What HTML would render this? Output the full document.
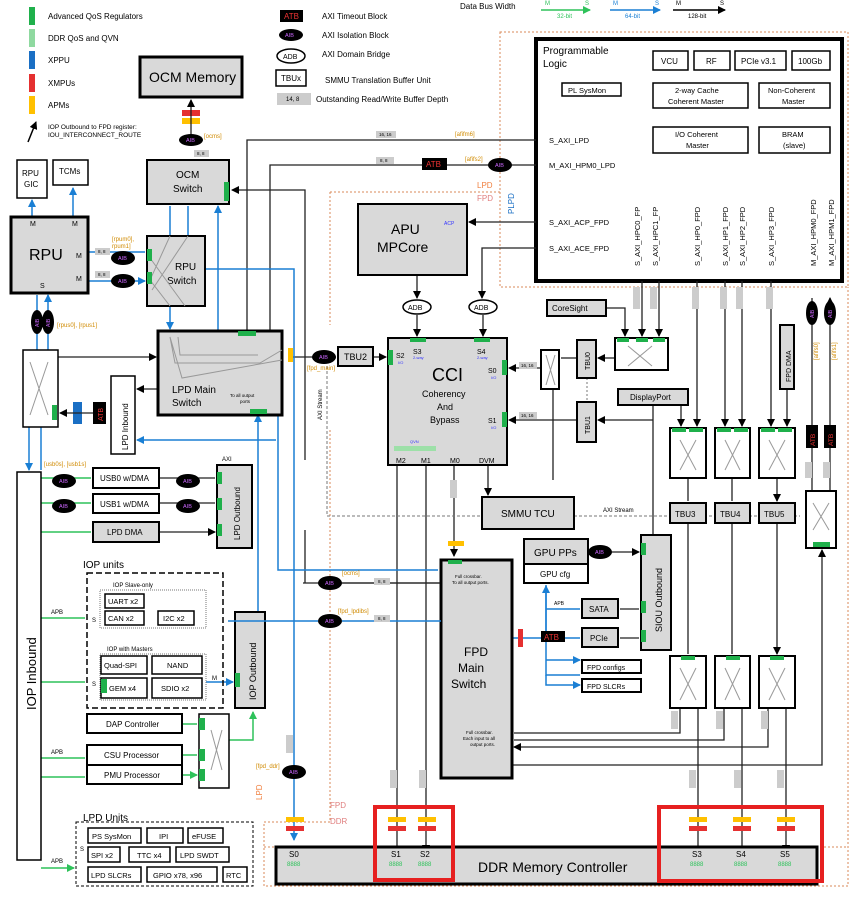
<!DOCTYPE html>
<html><head><meta charset="utf-8"><style>
html,body{margin:0;padding:0;background:#fff}
svg{display:block;font-family:"Liberation Sans",sans-serif}
.g{fill:#d9d9d9;stroke:#000;stroke-width:2}
.G{fill:#d9d9d9;stroke:#000;stroke-width:3}
.w{fill:#fff;stroke:#000;stroke-width:1.5}
.W{fill:#fff;stroke:#000;stroke-width:2}
.k{stroke:#222;stroke-width:1.3;fill:none}
.bl{stroke:#1a7fd4;stroke-width:1.5;fill:none}
.gr{stroke:#2ec25a;stroke-width:1.5;fill:none}
.or{stroke:#d98a5a;stroke-width:1;stroke-dasharray:2 2;fill:none}
.x{stroke:#999;stroke-width:1;fill:none}
.s{font-size:8px}.m{font-size:9.5px}.l{font-size:12px}
.o{fill:#d08a00;font-size:6px}
</style></head><body>
<svg width="860" height="904" viewBox="0 0 860 904">
<defs>
<marker id="a" markerWidth="8" markerHeight="8" refX="7" refY="4" orient="auto" markerUnits="userSpaceOnUse"><path d="M0,0L8,4L0,8z" fill="#000"/></marker>
<marker id="ab" markerWidth="8" markerHeight="8" refX="7" refY="4" orient="auto" markerUnits="userSpaceOnUse"><path d="M0,0L8,4L0,8z" fill="#1a7fd4"/></marker>
<marker id="ag" markerWidth="8" markerHeight="8" refX="7" refY="4" orient="auto" markerUnits="userSpaceOnUse"><path d="M0,0L8,4L0,8z" fill="#2ec25a"/></marker>
</defs>
<!-- legend -->
<rect x="29" y="7" width="6" height="18" fill="#1fb04b"/><text x="48" y="19" class="s">Advanced QoS Regulators</text>
<rect x="29" y="29" width="6" height="18" fill="#8fd9a0"/><text x="48" y="41" class="s">DDR QoS and QVN</text>
<rect x="29" y="51" width="6" height="18" fill="#1a6fc4"/><text x="48" y="63" class="s">XPPU</text>
<rect x="29" y="74" width="6" height="18" fill="#e53030"/><text x="48" y="86" class="s">XMPUs</text>
<rect x="29" y="96" width="6" height="18" fill="#ffc000"/><text x="48" y="108" class="s">APMs</text>
<path d="M28,142L36,122" stroke="#000" stroke-width="1.5" marker-end="url(#a)"/>
<text x="48" y="129" font-size="6.5">IOP Outbound to FPD register:</text><text x="48" y="137" font-size="6.5">IOU_INTERCONNECT_ROUTE</text>
<rect x="280" y="10" width="23" height="12" fill="#000"/><text x="284" y="19" font-size="8" fill="#e33">ATB</text><text x="322" y="19" class="s">AXI Timeout Block</text>
<ellipse cx="291" cy="35" rx="12" ry="6" fill="#000"/><text x="285" y="37" font-size="5.5" fill="#c6f">AIB</text><text x="322" y="38" class="s">AXI Isolation Block</text>
<ellipse cx="291" cy="56" rx="14" ry="7" class="w"/><text x="283" y="59" font-size="7">ADB</text><text x="322" y="57" class="s">AXI Domain Bridge</text>
<rect x="276" y="70" width="30" height="16" class="w"/><text x="281" y="81" class="s">TBUx</text><text x="325" y="83" class="s">SMMU Translation Buffer Unit</text>
<rect x="277" y="93" width="34" height="12" fill="#ccc"/><text x="286" y="101" font-size="6">14, 8</text><text x="316" y="102" class="s">Outstanding Read/Write Buffer Depth</text>
<text x="460" y="9" class="s">Data Bus Width</text>
<path d="M541,10H590" stroke="#2ec25a" stroke-width="1.5" marker-end="url(#ag)"/><text x="545" y="5" font-size="6" fill="#2ec25a">M</text><text x="585" y="5" font-size="6" fill="#2ec25a">S</text><text x="557" y="18" font-size="6" fill="#2ec25a">32-bit</text>
<path d="M610,10H660" class="bl" marker-end="url(#ab)"/><text x="613" y="5" font-size="6" fill="#1a7fd4">M</text><text x="655" y="5" font-size="6" fill="#1a7fd4">S</text><text x="625" y="18" font-size="6" fill="#1a7fd4">64-bit</text>
<path d="M673,10H725" stroke="#000" stroke-width="1.5" marker-end="url(#a)"/><text x="676" y="5" font-size="6">M</text><text x="720" y="5" font-size="6">S</text><text x="688" y="18" font-size="6">128-bit</text>

<!-- domain dashed -->
<path class="or" d="M500,32H848V287H500ZM330,192H500M330,192V325M330,430V822H264V886H848V287M264,847H848"/>
<text x="477" y="188" font-size="8" fill="#f08040">LPD</text><text x="477" y="201" font-size="8" fill="#e08080">FPD</text>
<text x="514" y="214" font-size="8" fill="#1a6fc4" transform="rotate(-90 514 214)">PLPD</text>
<text x="330" y="808" font-size="8" fill="#e08080">FPD</text><text x="330" y="824" font-size="8" fill="#e08080">DDR</text>
<text x="262" y="800" font-size="8" fill="#f08040" transform="rotate(-90 262 800)">LPD</text>

<!-- PL -->
<rect x="536" y="39" width="306" height="242" fill="#fff" stroke="#000" stroke-width="4"/>
<text x="543" y="54" font-size="10">Programmable</text><text x="543" y="67" font-size="10">Logic</text>
<rect x="653" y="51" width="35" height="19" class="w"/><text x="661" y="64" class="s">VCU</text>
<rect x="694" y="51" width="36" height="19" class="w"/><text x="706" y="64" class="s">RF</text>
<rect x="735" y="51" width="51" height="19" class="w"/><text x="741" y="64" class="s">PCIe v3.1</text>
<rect x="792" y="51" width="38" height="19" class="w"/><text x="798" y="64" class="s">100Gb</text>
<rect x="562" y="83" width="59" height="13" class="w"/><text x="568" y="93" font-size="7.5">PL SysMon</text>
<rect x="653" y="83" width="95" height="25" class="w"/><text x="675" y="93" font-size="7.5">2-way Cache</text><text x="668" y="104" font-size="7.5">Coherent Master</text>
<rect x="759" y="83" width="71" height="25" class="w"/><text x="768" y="93" font-size="7.5">Non-Coherent</text><text x="782" y="104" font-size="7.5">Master</text>
<rect x="653" y="127" width="95" height="26" class="w"/><text x="675" y="137" font-size="7.5">I/O Coherent</text><text x="686" y="148" font-size="7.5">Master</text>
<rect x="759" y="127" width="71" height="26" class="w"/><text x="782" y="137" font-size="7.5">BRAM</text><text x="783" y="148" font-size="7.5">(slave)</text>
<text x="549" y="143" font-size="7.5">S_AXI_LPD</text><text x="549" y="168" font-size="7.5">M_AXI_HPM0_LPD</text>
<text x="549" y="225" font-size="7.5">S_AXI_ACP_FPD</text><text x="549" y="251" font-size="7.5">S_AXI_ACE_FPD</text>
<g font-size="7.5">
<text transform="translate(640,266) rotate(-90)">S_AXI_HPC0_FP</text><text transform="translate(658,266) rotate(-90)">S_AXI_HPC1_FP</text>
<text transform="translate(700,266) rotate(-90)">S_AXI_HP0_FPD</text><text transform="translate(728,266) rotate(-90)">S_AXI_HP1_FPD</text>
<text transform="translate(745,266) rotate(-90)">S_AXI_HP2_FPD</text><text transform="translate(774,266) rotate(-90)">S_AXI_HP3_FPD</text>
<text transform="translate(816,266) rotate(-90)">M_AXI_HPM0_FPD</text><text transform="translate(834,266) rotate(-90)">M_AXI_HPM1_FPD</text></g>

<!-- black connectors -->
<g class="k">
<path d="M247,373V140H536"/><path d="M270,373V165H536"/><path d="M536,222H469" marker-end="url(#a)"/>
<path d="M536,248H482V298" marker-end="url(#a)"/><path d="M417,275V298" marker-end="url(#a)"/>
<path d="M417,315V336" marker-end="url(#a)"/><path d="M483,315V336" marker-end="url(#a)"/>
<path d="M305,460V190H232" marker-end="url(#a)"/>
<path d="M292,357H336"/><path d="M373,357H386" marker-end="url(#a)"/>
<path d="M58,357H156" marker-end="url(#a)"/><path d="M158,389H137" marker-end="url(#a)"/>
<path d="M606,308H625V336" marker-end="url(#a)"/><path d="M642,281V336" marker-end="url(#a)"/><path d="M659,281V336" marker-end="url(#a)"/>
<path d="M614,358H598" marker-end="url(#a)"/><path d="M577,358H561"/><path d="M541,368H509" marker-end="url(#a)"/>
<path d="M553,390V480M653,405V535"/><path d="M653,420H598" marker-end="url(#a)"/><path d="M577,420H509" marker-end="url(#a)"/>
<path d="M697,281V426" marker-end="url(#a)"/><path d="M725,281V426" marker-end="url(#a)"/><path d="M742,281V426" marker-end="url(#a)"/><path d="M771,281V426" marker-end="url(#a)"/>
<path d="M787,389V426" marker-end="url(#a)"/><path d="M681,405V426" marker-end="url(#a)"/>
<path d="M688,478V501M732,478V501M777,478V501" marker-end="url(#a)"/>
<path d="M688,523V654M732,523V654M777,523V654" marker-end="url(#a)"/>
<path d="M698,708V852M742,708V852M786,708V852" marker-end="url(#a)"/>
<path d="M680,708V733H514M724,708V740H514M768,708V747H514" marker-end="url(#a)"/>
<path d="M512,765H822V550" marker-end="url(#a)"/>
<path d="M812,430V298M830,430V298" marker-end="url(#a)"/><path d="M812,448V491M830,448V491"/>
<path d="M454,465V556" marker-end="url(#a)"/><path d="M488,465V495" marker-end="url(#a)"/>
<path d="M397,465V852M426,465V852" marker-end="url(#a)"/>
<path d="M303,583H440M305,583V530"/><path d="M159,478H215M159,503H215M159,532H215" marker-end="url(#a)"/>
<path d="M590,552H639" marker-end="url(#a)"/><path d="M620,609H639M620,638H639"/>
</g>
<path d="M327,366V516H482M574,516H800" stroke="#777" stroke-dasharray="3 2" fill="none"/>
<path d="M587,378V402" stroke="#777" stroke-dasharray="2 2"/>
<text x="322" y="420" font-size="6" transform="rotate(-90 322 420)">AXI Stream</text><text x="603" y="512" font-size="6">AXI Stream</text>

<!-- blue connectors -->
<g class="bl">
<path d="M32,217V200" marker-end="url(#ab)"/><path d="M73,217V188" marker-end="url(#ab)"/>
<path d="M88,252H145M88,281H145" marker-end="url(#ab)"/>
<path d="M170,236V206M188,236V206M218,331V206" marker-end="url(#ab)"/>
<path d="M170,306V329" marker-end="url(#ab)"/>
<path d="M205,269H294V840" marker-end="url(#ab)"/>
<path d="M37,350V295M48,350V295" marker-end="url(#ab)"/>
<path d="M29,427V470" marker-end="url(#ab)"/><path d="M41,427V470"/>
<path d="M278,415V570H438M276,440H137" marker-end="url(#ab)"/>
<path d="M258,617V415" marker-end="url(#ab)"/>
<path d="M206,682H233" marker-end="url(#ab)"/>
<path d="M546,585V675H580M546,609H580M546,638H580M546,660H580" marker-end="url(#ab)"/><path d="M546,675V685H580" marker-end="url(#ab)"/>
<path d="M513,638H541"/><path d="M546,638V586" marker-end="url(#ab)"/>
</g>
<!-- green connectors -->
<g class="gr">
<path d="M41,478H91M41,503H91M41,532H91M41,618H85M41,682H85M41,758H85M41,777H85M41,868H74" marker-end="url(#ag)"/>
<path d="M182,724H197M182,755H197M182,775H197" marker-end="url(#ag)"/>
<path d="M229,740H253V712" marker-end="url(#ag)"/>
</g>

<!-- boxes -->
<rect x="140" y="57" width="102" height="40" class="G"/><text x="149" y="82" font-size="14">OCM Memory</text>
<rect x="182" y="110" width="18" height="6" fill="#e53030"/><rect x="182" y="118" width="18" height="6" fill="#ffc000"/>
<path d="M191,134V100" class="k" marker-end="url(#a)"/>
<rect x="147" y="160" width="82" height="44" class="g"/><text x="176" y="178" font-size="10">OCM</text><text x="173" y="192" font-size="10">Switch</text>
<rect x="224" y="182" width="5" height="19" fill="#1fb04b"/>
<rect x="17" y="160" width="30" height="38" class="w"/><text x="22" y="176" class="s">RPU</text><text x="24" y="187" class="s">GIC</text>
<rect x="53" y="160" width="35" height="25" class="w"/><text x="59" y="174" class="s">TCMs</text>
<rect x="11" y="217" width="77" height="76" class="G"/><text x="29" y="260" font-size="16">RPU</text>
<text x="30" y="226" font-size="7">M</text><text x="72" y="226" font-size="7">M</text><text x="76" y="258" font-size="7">M</text><text x="76" y="281" font-size="7">M</text><text x="40" y="288" font-size="7">S</text>
<rect x="147" y="236" width="58" height="70" class="g" stroke-width="1"/><text x="175" y="270" font-size="10">RPU</text><text x="167" y="284" font-size="10">Switch</text>
<path d="M170,236L150,280L170,306M188,236L152,290M150,258L185,306" class="x" stroke="#666"/>
<rect x="147" y="249" width="5" height="12" fill="#1fb04b"/><rect x="147" y="272" width="5" height="12" fill="#1fb04b"/>
<rect x="23" y="350" width="35" height="77" class="w"/><path d="M30,362L48,415M48,362L30,415" class="x" stroke="#ccc"/>
<rect x="52" y="405" width="5" height="15" fill="#1fb04b"/>
<rect x="73" y="402" width="9" height="22" fill="#1a6fc4"/><rect x="93" y="402" width="13" height="22" fill="#000"/><text x="103" y="421" font-size="7" fill="#e33" transform="rotate(-90 103 421)">ATB</text>
<path d="M93,413H60" class="k" marker-end="url(#a)"/>
<rect x="111" y="376" width="24" height="78" class="w"/><text x="128" y="450" font-size="8" transform="rotate(-90 128 450)">LPD Inbound</text>
<rect x="158" y="331" width="124" height="84" class="G"/><text x="172" y="393" font-size="10">LPD Main</text><text x="172" y="406" font-size="10">Switch</text>
<path d="M170,337L175,363H260L282,350M178,337L180,355H258M170,337L182,378L282,360" class="x" stroke="#888"/>
<text x="230" y="397" font-size="4.5">To all output</text><text x="240" y="403" font-size="4.5">ports</text>
<rect x="238" y="331" width="18" height="5" fill="#1fb04b"/><rect x="250" y="409" width="17" height="5" fill="#1fb04b"/>
<rect x="288" y="348" width="5" height="14" fill="#ffc000"/>
<rect x="338" y="347" width="35" height="19" class="g"/><text x="344" y="360" font-size="9">TBU2</text>
<text x="307" y="370" class="o">[fpd_main]</text>
<rect x="358" y="204" width="109" height="71" class="g"/><text x="391" y="234" font-size="14">APU</text><text x="377" y="252" font-size="14">MPCore</text><text x="444" y="225" font-size="5" fill="#33f">ACP</text>
<ellipse cx="417" cy="307" rx="14" ry="7" class="w"/><text x="408" y="310" font-size="7">ADB</text>
<ellipse cx="483" cy="307" rx="14" ry="7" class="w"/><text x="474" y="310" font-size="7">ADB</text>
<rect x="388" y="338" width="119" height="127" class="g"/>
<text x="432" y="381" font-size="18">CCI</text><text x="422" y="397" font-size="9">Coherency</text><text x="437" y="410" font-size="9">And</text><text x="430" y="423" font-size="9">Bypass</text>
<text x="396" y="358" font-size="7">S2</text><text x="413" y="354" font-size="7">S3</text><text x="477" y="354" font-size="7">S4</text><text x="488" y="373" font-size="7">S0</text><text x="488" y="423" font-size="7">S1</text>
<g font-size="4" fill="#33f"><text x="398" y="364">I/O</text><text x="413" y="359">2-way</text><text x="477" y="359">2-way</text><text x="491" y="379">I/O</text><text x="491" y="429">I/O</text></g>
<text x="396" y="463" font-size="7">M2</text><text x="421" y="463" font-size="7">M1</text><text x="450" y="463" font-size="7">M0</text><text x="479" y="463" font-size="7">DVM</text>
<rect x="388" y="350" width="5" height="15" fill="#1fb04b"/><rect x="410" y="338" width="16" height="4" fill="#1fb04b"/><rect x="474" y="338" width="16" height="4" fill="#1fb04b"/>
<rect x="502" y="360" width="5" height="15" fill="#1fb04b"/><rect x="502" y="412" width="5" height="15" fill="#1fb04b"/>
<rect x="394" y="446" width="42" height="5" fill="#9de0a8"/><text x="410" y="443" font-size="4" fill="#33f">QVN</text>
<rect x="547" y="300" width="59" height="16" class="g"/><text x="552" y="311" font-size="8">CoreSight</text>
<rect x="615" y="338" width="53" height="32" class="W"/><path d="M628,346L652,366M652,346L628,366" class="x"/>
<rect x="617" y="338" width="12" height="4" fill="#1fb04b"/><rect x="636" y="338" width="12" height="4" fill="#1fb04b"/><rect x="653" y="338" width="12" height="4" fill="#1fb04b"/>
<rect x="577" y="340" width="19" height="38" class="g"/><text x="590" y="370" font-size="7" transform="rotate(-90 590 370)">TBU0</text>
<rect x="541" y="350" width="18" height="39" class="W"/><path d="M546,355L555,385M555,355L546,385" class="x"/>
<rect x="577" y="402" width="19" height="40" class="g"/><text x="590" y="434" font-size="7" transform="rotate(-90 590 434)">TBU1</text>
<rect x="618" y="389" width="70" height="16" class="g"/><text x="630" y="400" font-size="8">DisplayPort</text>
<rect x="780" y="325" width="14" height="64" class="g"/><text x="791" y="382" font-size="7" transform="rotate(-90 791 382)">FPD DMA</text>
<g><rect x="670" y="428" width="36" height="50" class="W"/><rect x="715" y="428" width="35" height="50" class="W"/><rect x="759" y="428" width="36" height="50" class="W"/>
<rect x="672" y="428" width="14" height="4" fill="#1fb04b"/><rect x="689" y="428" width="14" height="4" fill="#1fb04b"/><rect x="717" y="428" width="14" height="4" fill="#1fb04b"/><rect x="734" y="428" width="14" height="4" fill="#1fb04b"/><rect x="761" y="428" width="14" height="4" fill="#1fb04b"/><rect x="778" y="428" width="14" height="4" fill="#1fb04b"/>
<path d="M680,440L696,470M696,440L680,470M725,440L740,470M740,440L725,470M769,440L785,470M785,440L769,470" class="x"/></g>
<rect x="670" y="503" width="36" height="20" class="g"/><text x="675" y="517" font-size="8">TBU3</text>
<rect x="715" y="503" width="35" height="20" class="g"/><text x="720" y="517" font-size="8">TBU4</text>
<rect x="759" y="503" width="36" height="20" class="g"/><text x="764" y="517" font-size="8">TBU5</text>
<rect x="806" y="491" width="30" height="57" class="W"/><path d="M813,503L829,530M829,503L813,530" class="x"/><rect x="813" y="542" width="17" height="5" fill="#1fb04b"/>
<rect x="806" y="425" width="12" height="23" fill="#000"/><rect x="824" y="425" width="12" height="23" fill="#000"/>
<text x="815" y="446" font-size="6.5" fill="#e33" transform="rotate(-90 815 446)">ATB</text><text x="833" y="446" font-size="6.5" fill="#e33" transform="rotate(-90 833 446)">ATB</text>
<g fill="#000"><ellipse cx="812" cy="313" rx="6" ry="12"/><ellipse cx="830" cy="313" rx="6" ry="12"/><ellipse cx="37" cy="322" rx="6" ry="12"/><ellipse cx="48" cy="322" rx="6" ry="12"/></g>
<g font-size="5" fill="#c6f"><text transform="translate(814,318) rotate(-90)">AIB</text><text transform="translate(832,318) rotate(-90)">AIB</text><text transform="translate(39,327) rotate(-90)">AIB</text><text transform="translate(50,327) rotate(-90)">AIB</text></g>
<text class="o" transform="translate(818,360) rotate(-90)">[afifs0]</text><text class="o" transform="translate(836,360) rotate(-90)">[afifs1]</text>
<rect x="482" y="497" width="92" height="32" class="g"/><text x="501" y="517" font-size="10">SMMU TCU</text>
<rect x="524" y="539" width="64" height="25" class="g"/><text x="534" y="556" font-size="10">GPU PPs</text>
<rect x="524" y="564" width="64" height="19" class="W"/><text x="540" y="577" font-size="8">GPU cfg</text>
<rect x="641" y="535" width="30" height="115" class="g"/><text x="662" y="632" font-size="9" transform="rotate(-90 662 632)">SIOU Outbound</text>
<rect x="641" y="543" width="5" height="12" fill="#1fb04b"/><rect x="641" y="601" width="5" height="12" fill="#1fb04b"/><rect x="641" y="630" width="5" height="12" fill="#1fb04b"/>
<rect x="582" y="599" width="36" height="19" class="g"/><text x="589" y="612" font-size="8">SATA</text>
<rect x="582" y="628" width="36" height="19" class="g"/><text x="590" y="641" font-size="8">PCIe</text>
<rect x="582" y="660" width="59" height="13" class="W"/><text x="587" y="670" font-size="7">FPD configs</text>
<rect x="582" y="679" width="59" height="13" class="W"/><text x="587" y="689" font-size="7">FPD SLCRs</text>
<text x="554" y="605" font-size="5">APB</text>
<rect x="541" y="631" width="24" height="11" fill="#000"/><text x="544" y="640" font-size="8" fill="#e33">ATB</text>
<rect x="518" y="629" width="5" height="18" fill="#e53030"/>
<rect x="441" y="560" width="71" height="218" class="G"/><text x="464" y="656" font-size="12">FPD</text><text x="458" y="672" font-size="12">Main</text><text x="451" y="688" font-size="12">Switch</text>
<text x="455" y="578" font-size="4.5">Full crossbar.</text><text x="452" y="584" font-size="4.5">To all output ports.</text>
<text x="466" y="734" font-size="4.5">Full crossbar.</text><text x="463" y="740" font-size="4.5">Each input to all</text><text x="470" y="746" font-size="4.5">output ports.</text>
<rect x="448" y="560" width="14" height="4" fill="#1fb04b"/><rect x="448" y="541" width="16" height="5" fill="#ffc000"/>
<g><rect x="670" y="656" width="36" height="52" class="W"/><rect x="715" y="656" width="35" height="52" class="W"/><rect x="759" y="656" width="36" height="52" class="W"/>
<rect x="681" y="656" width="14" height="4" fill="#1fb04b"/><rect x="726" y="656" width="14" height="4" fill="#1fb04b"/><rect x="770" y="656" width="14" height="4" fill="#1fb04b"/>
<path d="M680,668L696,700M696,668L680,700M725,668L740,700M740,668L725,700M769,668L785,700M785,668L769,700" class="x"/></g>
<!-- DDR -->
<rect x="276" y="847" width="541" height="37" class="G"/><text x="478" y="872" font-size="14">DDR Memory Controller</text>
<g font-size="8"><text x="289" y="857">S0</text><text x="391" y="857">S1</text><text x="420" y="857">S2</text><text x="692" y="857">S3</text><text x="736" y="857">S4</text><text x="780" y="857">S5</text></g>
<g fill="#2ec25a" font-size="6"><text x="287" y="866">8888</text><text x="389" y="866">8888</text><text x="418" y="866">8888</text><text x="690" y="866">8888</text><text x="734" y="866">8888</text><text x="778" y="866">8888</text></g>
<g><rect x="286" y="817" width="18" height="5" fill="#ffc000"/><rect x="286" y="826" width="18" height="5" fill="#e53030"/>
<rect x="388" y="817" width="18" height="5" fill="#ffc000"/><rect x="388" y="826" width="18" height="5" fill="#e53030"/>
<rect x="418" y="817" width="18" height="5" fill="#ffc000"/><rect x="418" y="826" width="18" height="5" fill="#e53030"/>
<rect x="689" y="817" width="18" height="5" fill="#ffc000"/><rect x="689" y="826" width="18" height="5" fill="#e53030"/>
<rect x="733" y="817" width="18" height="5" fill="#ffc000"/><rect x="733" y="826" width="18" height="5" fill="#e53030"/>
<rect x="777" y="817" width="18" height="5" fill="#ffc000"/><rect x="777" y="826" width="18" height="5" fill="#e53030"/></g>
<rect x="375" y="807" width="78" height="73" fill="none" stroke="#e62020" stroke-width="4"/>
<rect x="659" y="807" width="163" height="74" fill="none" stroke="#e62020" stroke-width="4"/>
<!-- left bottom -->
<rect x="17" y="472" width="24" height="388" class="w"/><text x="36" y="710" font-size="13" transform="rotate(-90 36 710)">IOP Inbound</text>
<text x="44" y="466" class="o">[usb0s], [usb1s]</text>
<rect x="93" y="468" width="66" height="20" class="W"/><text x="100" y="481" font-size="8">USB0 w/DMA</text>
<rect x="93" y="494" width="66" height="19" class="W"/><text x="100" y="507" font-size="8">USB1 w/DMA</text>
<rect x="93" y="522" width="66" height="20" class="g"/><text x="107" y="535" font-size="8">LPD DMA</text>
<rect x="217" y="465" width="35" height="83" class="g"/><text x="240" y="540" font-size="8" transform="rotate(-90 240 540)">LPD Outbound</text>
<rect x="217" y="472" width="5" height="12" fill="#1fb04b"/><rect x="217" y="498" width="5" height="12" fill="#1fb04b"/><rect x="217" y="524" width="5" height="12" fill="#1fb04b"/>
<text x="222" y="461" font-size="6">AXI</text>
<text x="83" y="568" font-size="10">IOP units</text>
<rect x="87" y="573" width="136" height="135" fill="none" stroke="#000" stroke-width="1.5" stroke-dasharray="6 3"/>
<text x="113" y="587" font-size="6">IOP Slave-only</text>
<rect x="100" y="590" width="106" height="38" fill="none" stroke="#777" stroke-dasharray="1 1"/>
<rect x="105" y="594" width="39" height="14" class="w"/><text x="108" y="604" font-size="7.5">UART x2</text>
<rect x="105" y="611" width="39" height="14" class="w"/><text x="108" y="621" font-size="7.5">CAN x2</text>
<rect x="158" y="611" width="36" height="14" class="w"/><text x="163" y="621" font-size="7.5">I2C x2</text>
<text x="107" y="651" font-size="6">IOP with Masters</text>
<rect x="100" y="654" width="106" height="46" fill="none" stroke="#777" stroke-dasharray="1 1"/>
<rect x="101" y="656" width="46" height="18" class="w"/><text x="104" y="668" font-size="7.5">Quad-SPI</text>
<rect x="152" y="656" width="50" height="18" class="w"/><text x="167" y="668" font-size="7.5">NAND</text>
<rect x="101" y="678" width="46" height="20" class="w"/><text x="109" y="691" font-size="7.5">GEM x4</text>
<rect x="152" y="678" width="50" height="20" class="w"/><text x="161" y="691" font-size="7.5">SDIO x2</text>
<rect x="101" y="679" width="6" height="14" fill="#1fb04b"/>
<text x="92" y="622" font-size="6">S</text><text x="92" y="686" font-size="6">S</text><text x="212" y="680" font-size="6">M</text>
<text x="51" y="614" font-size="6">APB</text><text x="51" y="754" font-size="6">APB</text><text x="51" y="863" font-size="6">APB</text>
<rect x="235" y="612" width="30" height="96" class="g"/><text x="256" y="700" font-size="9" transform="rotate(-90 256 700)">IOP Outbound</text>
<rect x="235" y="673" width="5" height="14" fill="#1fb04b"/>
<rect x="87" y="714" width="95" height="19" class="W"/><text x="106" y="727" font-size="8">DAP Controller</text>
<rect x="87" y="745" width="95" height="20" class="W"/><text x="104" y="758" font-size="8">CSU Processor</text>
<rect x="87" y="765" width="95" height="19" class="W"/><text x="104" y="778" font-size="8">PMU Processor</text>
<rect x="199" y="714" width="30" height="74" class="w"/><path d="M211,730L222,770M222,730L211,770" class="x" stroke="#ccc"/>
<rect x="199" y="718" width="6" height="12" fill="#1fb04b"/><rect x="199" y="749" width="6" height="12" fill="#1fb04b"/><rect x="199" y="769" width="6" height="12" fill="#1fb04b"/>
<text x="83" y="821" font-size="10">LPD Units</text>
<rect x="76" y="822" width="177" height="64" fill="none" stroke="#000" stroke-dasharray="3 2"/>
<text x="80" y="851" font-size="6">S</text>
<g font-size="7.5">
<rect x="88" y="828" width="53" height="15" class="w"/><text x="92" y="839">PS SysMon</text>
<rect x="147" y="828" width="36" height="15" class="w"/><text x="159" y="839">IPI</text>
<rect x="188" y="828" width="35" height="15" class="w"/><text x="192" y="839">eFUSE</text>
<rect x="88" y="847" width="32" height="15" class="w"/><text x="91" y="858">SPI x2</text>
<rect x="129" y="847" width="41" height="15" class="w"/><text x="137" y="858">TTC x4</text>
<rect x="176" y="847" width="53" height="15" class="w"/><text x="180" y="858">LPD SWDT</text>
<rect x="88" y="867" width="53" height="15" class="w"/><text x="91" y="878">LPD SLCRs</text>
<rect x="147" y="867" width="70" height="15" class="w"/><text x="153" y="878">GPIO x78, x96</text>
<rect x="223" y="867" width="24" height="15" class="w"/><text x="226" y="878">RTC</text></g>
<!-- AIBs -->
<g class="k"><path d="M228,621H318" class="bl"/><path d="M342,621H441" class="bl"/><path d="M342,583H440" /></g>
<g fill="#000">
<ellipse cx="191" cy="140" rx="12" ry="6"/><ellipse cx="123" cy="258" rx="12" ry="7"/><ellipse cx="123" cy="281" rx="12" ry="7"/>
<ellipse cx="324" cy="357" rx="12" ry="7"/><ellipse cx="500" cy="165" rx="12" ry="7"/><ellipse cx="600" cy="552" rx="12" ry="7"/>
<ellipse cx="64" cy="481" rx="12" ry="7"/><ellipse cx="64" cy="506" rx="12" ry="7"/><ellipse cx="188" cy="481" rx="12" ry="7"/><ellipse cx="188" cy="506" rx="12" ry="7"/>
<ellipse cx="330" cy="583" rx="12" ry="7"/><ellipse cx="330" cy="621" rx="12" ry="7"/><ellipse cx="294" cy="772" rx="12" ry="7"/></g>
<g font-size="5.5" fill="#c6f"><text x="186" y="142">AIB</text><text x="118" y="260">AIB</text><text x="118" y="283">AIB</text><text x="319" y="359">AIB</text><text x="495" y="167">AIB</text><text x="595" y="554">AIB</text>
<text x="59" y="483">AIB</text><text x="59" y="508">AIB</text><text x="183" y="483">AIB</text><text x="183" y="508">AIB</text><text x="325" y="585">AIB</text><text x="325" y="623">AIB</text><text x="289" y="774">AIB</text></g>
<rect x="422" y="158" width="25" height="12" fill="#000"/><text x="426" y="167" font-size="8" fill="#e33">ATB</text>
<g class="o"><text x="204" y="138">[ocms]</text><text x="112" y="241">[rpum0],</text><text x="112" y="248">rpum1]</text><text x="57" y="327">[rpus0], [rpus1]</text>
<text x="455" y="136">[afifm6]</text><text x="465" y="161">[afifs2]</text><text x="342" y="575">[ocms]</text><text x="338" y="613">[fpd_lpdibs]</text><text x="256" y="768">[fpd_ddr]</text></g>
<g fill="#ccc"><rect x="194" y="150" width="15" height="7"/><rect x="95" y="248" width="15" height="7"/><rect x="95" y="271" width="15" height="7"/><rect x="376" y="131" width="20" height="7"/><rect x="376" y="157" width="18" height="7"/>
<rect x="374" y="578" width="16" height="7"/><rect x="374" y="615" width="16" height="7"/><rect x="519" y="362" width="18" height="7"/><rect x="519" y="412" width="18" height="7"/>
<rect x="450" y="480" width="7" height="18"/><rect x="286" y="735" width="7" height="18"/><rect x="390" y="770" width="7" height="18"/><rect x="419" y="770" width="7" height="18"/>
<rect x="689" y="770" width="7" height="18"/><rect x="734" y="770" width="7" height="18"/><rect x="777" y="770" width="7" height="18"/>
<rect x="671" y="711" width="7" height="18"/><rect x="716" y="711" width="7" height="18"/><rect x="761" y="711" width="7" height="18"/>
<rect x="633" y="287" width="7" height="22"/><rect x="650" y="287" width="7" height="22"/><rect x="692" y="287" width="7" height="22"/><rect x="720" y="287" width="7" height="22"/><rect x="736" y="287" width="7" height="22"/><rect x="766" y="287" width="7" height="22"/>
<rect x="805" y="462" width="7" height="16"/><rect x="823" y="462" width="7" height="16"/></g>
<g font-size="4.5"><text x="197" y="155">8, 8</text><text x="98" y="253">8, 8</text><text x="98" y="276">8, 8</text><text x="379" y="136">16, 16</text><text x="380" y="162">8, 8</text>
<text x="378" y="583">8, 8</text><text x="378" y="620">8, 8</text><text x="521" y="367">16, 16</text><text x="521" y="417">16, 16</text></g>
</svg>
</body></html>
